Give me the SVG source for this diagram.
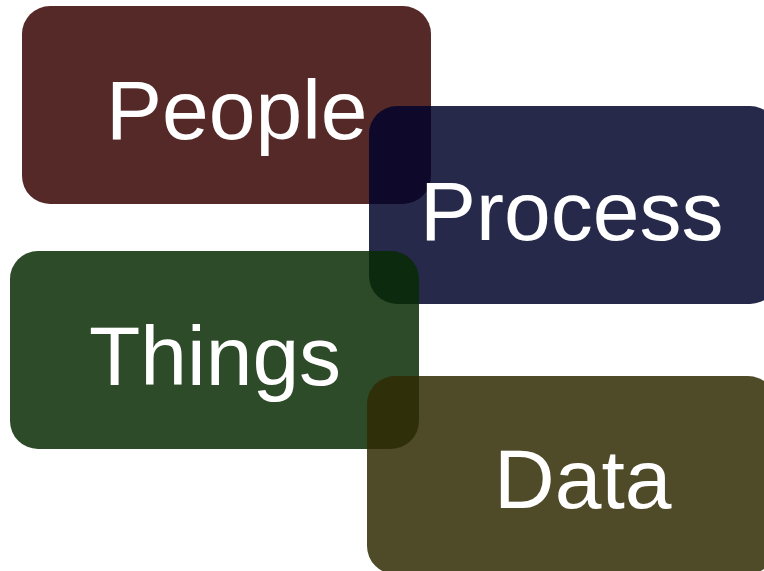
<svg xmlns="http://www.w3.org/2000/svg" width="764" height="571" viewBox="0 0 764 571">
<style>
.box{fill-opacity:0.85}
.lbl{font-family:"Liberation Sans",Arial,sans-serif;font-size:84px;fill:#ffffff}
</style>
<rect width="764" height="571" fill="#ffffff"/>
<g id="people">
<rect class="box" x="22" y="6" width="409" height="198" rx="28" fill="#380303"/>
<text class="lbl" x="106" y="139">People</text>
</g>
<g id="process">
<rect class="box" x="369" y="106" width="409" height="198" rx="28" fill="#01042a"/>
<text class="lbl" x="420" y="240">Process</text>
</g>
<g id="things">
<rect class="box" x="10" y="251" width="409" height="198" rx="28" fill="#082a03"/>
<text class="lbl" x="89" y="385">Things</text>
</g>
<g id="data">
<rect class="box" x="367" y="376" width="409" height="198" rx="28" fill="#302c03"/>
<text class="lbl" x="494" y="508">Data</text>
</g>
<g id="connectors"/>
</svg>
